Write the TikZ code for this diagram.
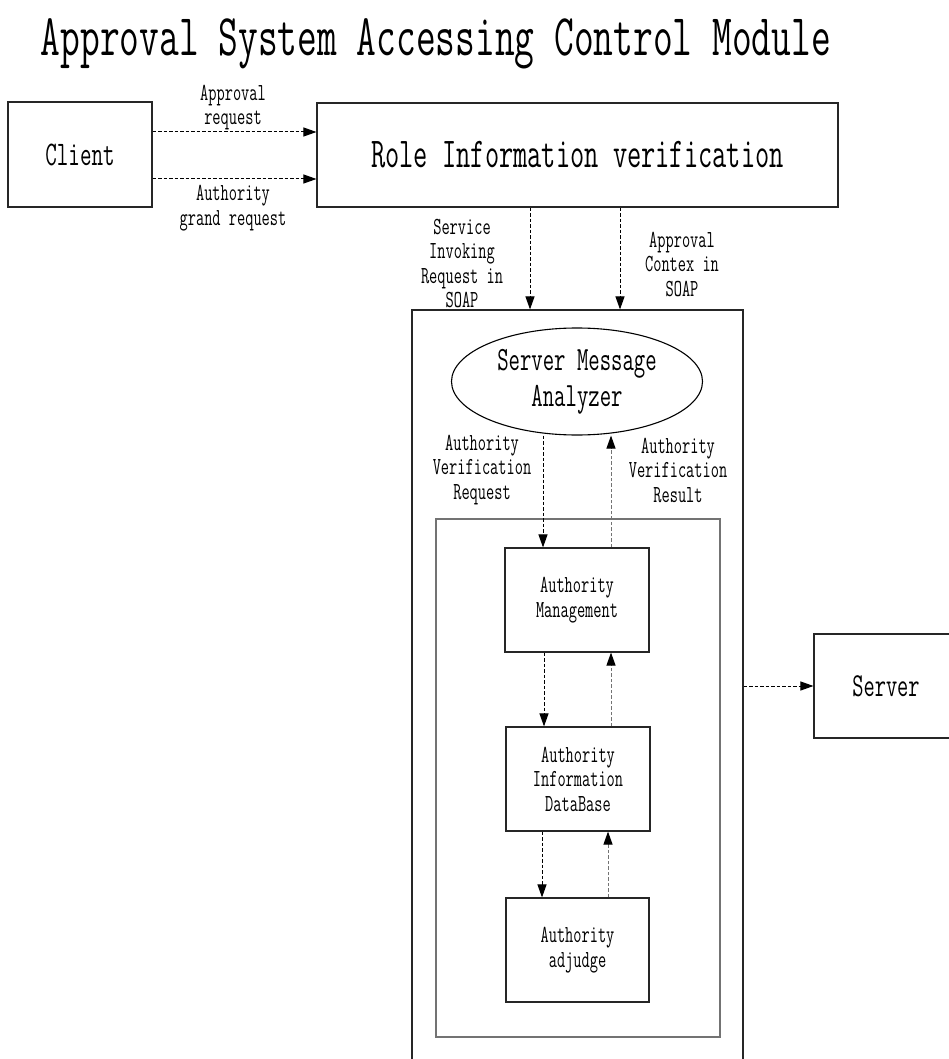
\documentclass[tikz,border=0pt]{standalone}
\usepackage{fontspec}
\usetikzlibrary{arrows.meta,shapes.geometric}
\newfontfamily\condfont[FakeStretch=0.65]{Latin Modern Mono}

\tikzset{
  box/.style={draw=black!85, line width=1.1pt, rectangle, inner sep=0pt,
              align=center, font=\condfont\fontsize{24.5}{24.5}\selectfont},
  frame/.style={draw=black!85, line width=1.1pt, rectangle, inner sep=0pt},
  lbl/.style={inner sep=0pt, align=center, font=\condfont\fontsize{24.5}{24.5}\selectfont},
  dar/.style={draw=black, line width=1pt, dash pattern=on 3.5pt off 2pt,
              -{Triangle[length=13pt,width=9pt,black]}},
  uar/.style={dar, draw=black!55},
}

\begin{document}
\begin{tikzpicture}[x=1pt,y=-1pt]
\useasboundingbox (0,0) rectangle (948,1059);

% title
\node[anchor=base, inner sep=0pt, font=\condfont\fontsize{59}{59}\selectfont]
  (title) at (436,56) {Approval System Accessing Control Module};

% top row
\node[box, minimum width=144, minimum height=105,
      font=\condfont\fontsize{34.5}{34.5}\selectfont] (client) at (80,154.5) {Client};
\node[box, minimum width=521, minimum height=104,
      font=\condfont\fontsize{42.5}{42.5}\selectfont] (role) at (577.5,155) {Role Information verification};

% module frames
\node[frame, minimum width=331, minimum height=770] (outer) at (577.5,695) {};
\node[frame, draw=black!55, minimum width=284, minimum height=518] (inner) at (578,778) {};

% analyzer and internal blocks
\node[ellipse, draw=black, line width=1.1pt, inner sep=0pt, minimum width=251, minimum height=107,
      align=center, font=\condfont\fontsize{34}{36}\selectfont] (ana) at (577,381.5) {Server Message\\Analyzer};
\node[box, minimum width=144, minimum height=104] (mgmt) at (577,600) {Authority\\Management};
\node[box, minimum width=144, minimum height=104] (db) at (578,779) {Authority\\Information\\DataBase};
\node[box, minimum width=143, minimum height=104] (adj) at (577.5,950) {Authority\\adjudge};

% server
\node[box, minimum width=144, minimum height=104,
      font=\condfont\fontsize{33.5}{33.5}\selectfont] (server) at (886,686) {Server};

% connector labels
\node[lbl] (lapp) at (233,107.5) {Approval\\request};
\node[lbl] (lgrant) at (233,208) {Authority\\grand request};
\node[lbl] (lsvc) at (462,263.5) {Service\\Invoking\\Request in\\SOAP};
\node[lbl] (lctx) at (682,264) {Approval\\Contex in\\SOAP};
\node[lbl] (lreq) at (482,470) {Authority\\Verification\\Request};
\node[lbl] (lres) at (678,470) {Authority\\Verification\\Result};

% connectors
\draw[dar] (client.east |- 0,132) -- (role.west |- 0,132);
\draw[dar] (client.east |- 0,179) -- (role.west |- 0,179);
\draw[dar] (role.south -| 530,0) -- (outer.north -| 530,0);
\draw[dar] (role.south -| 620,0) -- (outer.north -| 620,0);
\draw[dar] (ana.south -| 543,0) -- (mgmt.north -| 543,0);
\draw[uar] (mgmt.north -| 611,0) -- (ana.south -| 611,0);
\draw[dar] (mgmt.south -| 544,0) -- (db.north -| 544,0);
\draw[uar] (db.north -| 611,0) -- (mgmt.south -| 611,0);
\draw[dar] (db.south -| 542,0) -- (adj.north -| 542,0);
\draw[uar] (adj.north -| 608,0) -- (db.south -| 608,0);
\draw[dar] (outer.east |- server.west) -- (server.west);
\end{tikzpicture}
\end{document}
